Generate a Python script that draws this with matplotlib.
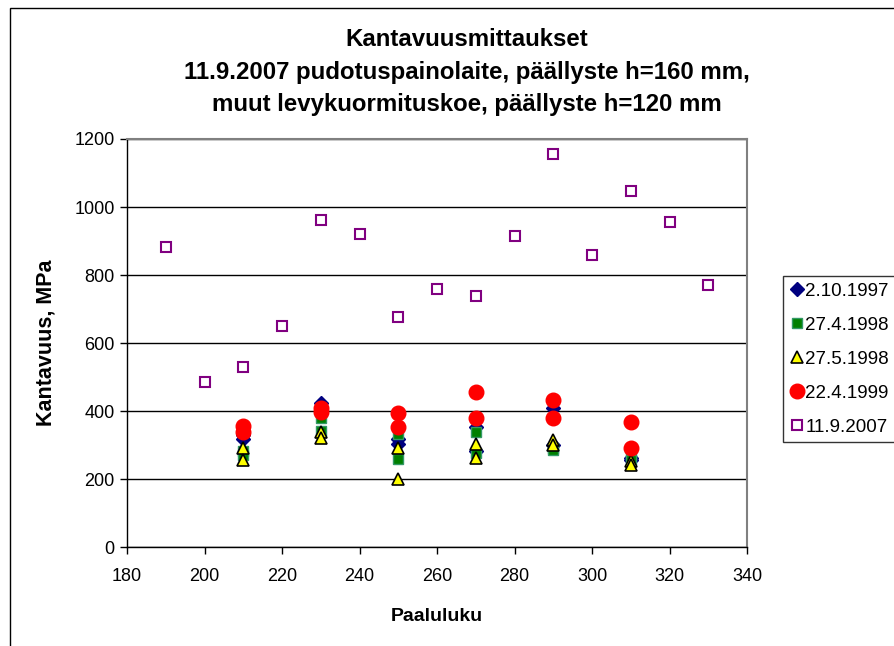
import matplotlib.pyplot as plt
from matplotlib.patches import Rectangle

plt.rcParams['font.family'] = ['Liberation Sans', 'DejaVu Sans']

# Measurement stations (paaluluku) and bearing capacity values (MPa)
x_pairs = [210, 210, 230, 230, 250, 250, 270, 270, 290, 290, 310, 310]
y_1997 = [330, 318, 425, 405, 318, 302, 352, 282, 408, 300, 262, 255]
y_1998a = [283, 272, 378, 340, 332, 260, 338, 276, 290, 285, 272, 257]
y_1998b = [292, 257, 338, 320, 292, 200, 302, 262, 314, 300, 252, 242]
y_1999 = [357, 337, 410, 398, 394, 353, 455, 378, 431, 378, 368, 291]

x_2007 = [190, 200, 210, 220, 230, 240, 250, 260, 270, 280, 290, 300, 310, 320, 330]
y_2007 = [883, 486, 528, 651, 961, 920, 677, 760, 739, 915, 1157, 858, 1048, 956, 770]

labels = ["2.10.1997", "27.4.1998", "27.5.1998", "22.4.1999", "11.9.2007"]

fig = plt.figure(figsize=(8.94, 6.46), dpi=100)
ax = fig.add_axes([127 / 894, 1 - 547 / 646, (747 - 127) / 894, (547 - 139) / 646])

# Outer chart border
fig.patches.append(Rectangle((10 / 894, -0.05), 1.2, 1 - 8 / 646 + 0.05,
                             transform=fig.transFigure, fill=False,
                             edgecolor="black", lw=1.0))

ax.plot(x_pairs, y_1997, linestyle="", marker="D", markersize=7,
        color="#000080", label=labels[0], zorder=3)
ax.plot(x_pairs, y_1998a, linestyle="", marker="s", markersize=7.5,
        markerfacecolor="#008000", markeredgecolor="#339966", label=labels[1], zorder=3)
ax.plot(x_pairs, y_1998b, linestyle="", marker="^", markersize=8.5,
        markerfacecolor="#FFFF00", markeredgecolor="black", markeredgewidth=1.2,
        label=labels[2], zorder=3)
ax.plot(x_pairs, y_1999, linestyle="", marker="o", markersize=10.5,
        color="#FF0000", label=labels[3], zorder=3)
ax.plot(x_2007, y_2007, linestyle="", marker="s", markersize=7.5,
        markerfacecolor="white", markeredgecolor="#800080", markeredgewidth=1.5,
        label=labels[4], zorder=3)

ax.set_xlim(180, 340)
ax.set_ylim(0, 1200)
ax.set_xticks(range(180, 341, 20))
ax.set_yticks(range(0, 1201, 200))
ax.tick_params(axis="both", labelsize=13, direction="out", length=5, width=1,
               colors="black")
ax.tick_params(axis="x", pad=10)
ax.tick_params(axis="y", pad=4)
ax.yaxis.grid(True, color="black", lw=1.0)
ax.set_axisbelow(True)
for side in ["top", "right"]:
    ax.spines[side].set_color("#808080")
    ax.spines[side].set_linewidth(1.5)
for side in ["left", "bottom"]:
    ax.spines[side].set_color("black")
    ax.spines[side].set_linewidth(1.0)

ax.set_xlabel("Paaluluku", fontsize=14, fontweight="bold", labelpad=17)
ax.set_ylabel("Kantavuus, MPa", fontsize=15.5, fontweight="bold", labelpad=13)

fig.text(467 / 894, 1 - 72 / 646,
         "Kantavuusmittaukset\n11.9.2007 pudotuspainolaite, päällyste h=160 mm,\n"
         "muut levykuormituskoe, päällyste h=120 mm",
         ha="center", va="center", fontsize=17.3, fontweight="bold", linespacing=1.5)

leg = ax.legend(loc="upper left", bbox_to_anchor=(783 / 894, 1 - 276 / 646),
                bbox_transform=fig.transFigure, frameon=True, fancybox=False,
                fontsize=13.5, handletextpad=0.05, handlelength=0.8,
                labelspacing=0.9, borderpad=0.35, borderaxespad=0)
leg.get_frame().set_edgecolor("black")
leg.get_frame().set_linewidth(1.0)

plt.savefig("out.png", dpi=100)
